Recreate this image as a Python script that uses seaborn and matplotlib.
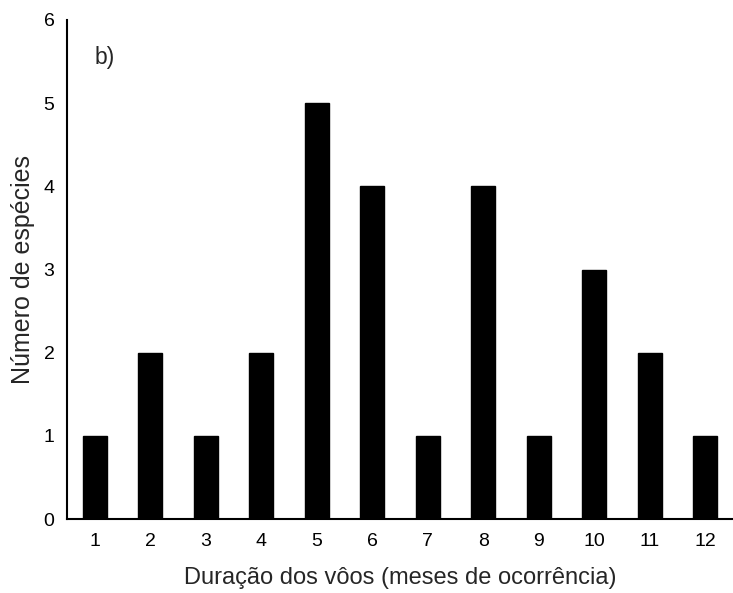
import matplotlib
matplotlib.use("Agg")
import matplotlib.pyplot as plt
import seaborn as sns
import pandas as pd

months = ["1", "2", "3", "4", "5", "6", "7", "8", "9", "10", "11", "12"]
species = [1, 2, 1, 2, 5, 4, 1, 4, 1, 3, 2, 1]
y_ticks = [0, 1, 2, 3, 4, 5, 6]

sns.set_style("white")
plt.rcParams['font.family'] = ['Liberation Sans', 'DejaVu Sans']

df = pd.DataFrame({"mes": months, "n": species})

fig = plt.figure(figsize=(7.33, 5.93), dpi=100)
ax = fig.add_axes([67/733, 1 - 519/593, 1 - 67/733, (519 - 20)/593])
sns.barplot(data=df, x="mes", y="n", color="black", width=0.43, ax=ax,
            saturation=1, edgecolor="black")
ax.set_xlim(-0.5, 11.5)
ax.set_ylim(0, 6)
ax.set_yticks(y_ticks)
for s in ["top", "right"]:
    ax.spines[s].set_visible(False)
for s in ["left", "bottom"]:
    ax.spines[s].set_color("black")
    ax.spines[s].set_linewidth(1.5)
ax.tick_params(axis="both", length=0, labelsize=14, colors="black")
ax.tick_params(axis="x", pad=10)
ax.tick_params(axis="y", pad=9)
ax.set_xlabel("Duração dos vôos (meses de ocorrência)", fontsize=17, labelpad=12)
ax.set_ylabel("Número de espécies", fontsize=18, labelpad=6)
ax.text(0.0, 5.55, "b)", fontsize=16.5, ha="left", va="center")
fig.savefig("out.png", dpi=100)
